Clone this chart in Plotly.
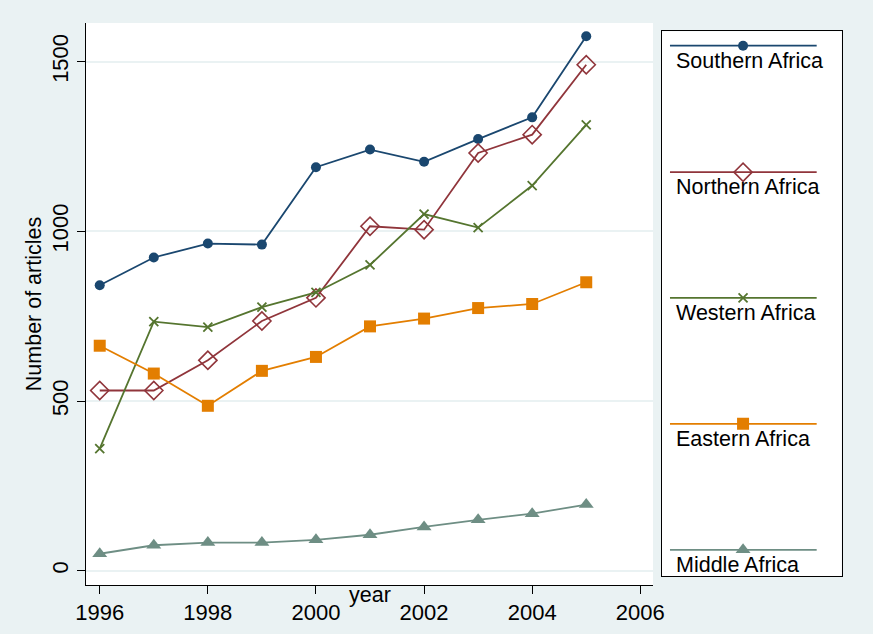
import plotly.graph_objects as go

years = [1996, 1997, 1998, 1999, 2000, 2001, 2002, 2003, 2004, 2005]
southern = [841, 923, 964, 961, 1189, 1241, 1205, 1272, 1336, 1575]
northern = [531, 531, 620, 736, 804, 1015, 1005, 1231, 1285, 1491]
western = [360, 734, 718, 777, 820, 901, 1051, 1011, 1135, 1314]
eastern = [663, 581, 486, 589, 630, 720, 743, 774, 786, 850]
middle = [50, 75, 83, 83, 91, 106, 129, 150, 168, 195]

series_names = ["Southern Africa", "Northern Africa", "Western Africa", "Eastern Africa", "Middle Africa"]
series_values = [southern, northern, western, eastern, middle]
colors = ["#1A476F", "#90353B", "#55752F", "#E37E00", "#6E8E84"]
markers = [
    dict(symbol="circle", size=10),
    dict(symbol="diamond-open", size=14, line=dict(width=1.6)),
    dict(symbol="x-thin-open", size=9, line=dict(width=1.8)),
    dict(symbol="square", size=12),
    dict(symbol="triangle-up", size=13),
]

x_ticks = [1996, 1998, 2000, 2002, 2004, 2006]
y_ticks = [0, 500, 1000, 1500]

BG = "#EAF2F3"
FONT = "Liberation Sans, Arial, sans-serif"
TXT = 21.5

fig = go.Figure()
for name, vals, col, mk in zip(series_names, series_values, colors, markers):
    m = dict(mk)
    m["color"] = col
    if "line" in m:
        m["line"] = dict(m["line"], color=col)
    fig.add_trace(go.Scatter(x=years, y=vals, mode="lines+markers", name=name,
                             line=dict(color=col, width=1.8), marker=m,
                             showlegend=False, xaxis="x", yaxis="y"))

# Legend drawn in its own small axis box (line above label, as in Stata)
legend_y = [0.9736, 0.7414, 0.5106, 0.2793, 0.0481]
for name, col, mk, ly in zip(series_names, colors, markers, legend_y):
    fig.add_trace(go.Scatter(x=[0.046, 0.861], y=[ly, ly], mode="lines",
                             line=dict(color=col, width=1.8), showlegend=False,
                             hoverinfo="skip", xaxis="x2", yaxis="y2"))
    m = dict(mk)
    m["color"] = col
    if "line" in m:
        m["line"] = dict(m["line"], color=col)
    fig.add_trace(go.Scatter(x=[0.452], y=[ly], mode="markers", marker=m,
                             showlegend=False, hoverinfo="skip", xaxis="x2", yaxis="y2"))
    fig.add_annotation(x=0.07, y=ly, xref="x2", yref="y2", text=name,
                       showarrow=False, xanchor="left", yanchor="middle", yshift=-15,
                       font=dict(family=FONT, size=TXT, color="black"))

W, H = 873, 634
ml, mr, mt, mb = 86, 20, 23, 49
pw = W - ml - mr
ph = H - mt - mb

fig.add_annotation(x=0.5, xref="x domain", y=-10 / ph, yref="paper", text="year",
                   showarrow=False, xanchor="center", yanchor="middle",
                   font=dict(family=FONT, size=TXT, color="black"))

fig.update_layout(
    width=W, height=H,
    margin=dict(l=ml, r=mr, t=mt, b=mb, autoexpand=False),
    paper_bgcolor=BG, plot_bgcolor="white",
    font=dict(family=FONT, size=TXT, color="black"),
    xaxis=dict(domain=[0, 567 / pw], range=[1995.746, 2006.235], tickvals=x_ticks,
               ticks="outside", ticklen=8, tickcolor="black", tickwidth=1,
               showline=True, linecolor="black", linewidth=1, showgrid=False,
               zeroline=False, tickfont=dict(size=22), automargin=False),
    yaxis=dict(domain=[0, 1], range=[-42.1, 1614], tickvals=y_ticks, tickangle=-90,
               ticks="outside", ticklen=8, tickcolor="black", tickwidth=1,
               showline=True, linecolor="black", linewidth=1, showgrid=True,
               gridcolor=BG, gridwidth=1.5, zeroline=False, tickfont=dict(size=22),
               automargin=False,
               title=dict(text="Number of articles", standoff=0, font=dict(size=TXT))),
    xaxis2=dict(domain=[(661.7 - ml) / pw, (841.7 - ml) / pw], range=[0, 1],
                showticklabels=False, ticks="", showgrid=False, zeroline=False,
                showline=True, mirror=True, linecolor="black", linewidth=1, anchor="y2"),
    yaxis2=dict(domain=[(585 - 576) / ph, (585 - 31.3) / ph], range=[0, 1],
                showticklabels=False, ticks="", showgrid=False, zeroline=False,
                showline=True, mirror=True, linecolor="black", linewidth=1, anchor="x2"),
)

fig.write_html("out.html", config={"displayModeBar": False})
with open("out.html", "r", encoding="utf-8") as f:
    html = f.read()
html = html.replace("<head>", "<head><style>html,body{margin:0;padding:0;}</style>", 1)
with open("out.html", "w", encoding="utf-8") as f:
    f.write(html)
